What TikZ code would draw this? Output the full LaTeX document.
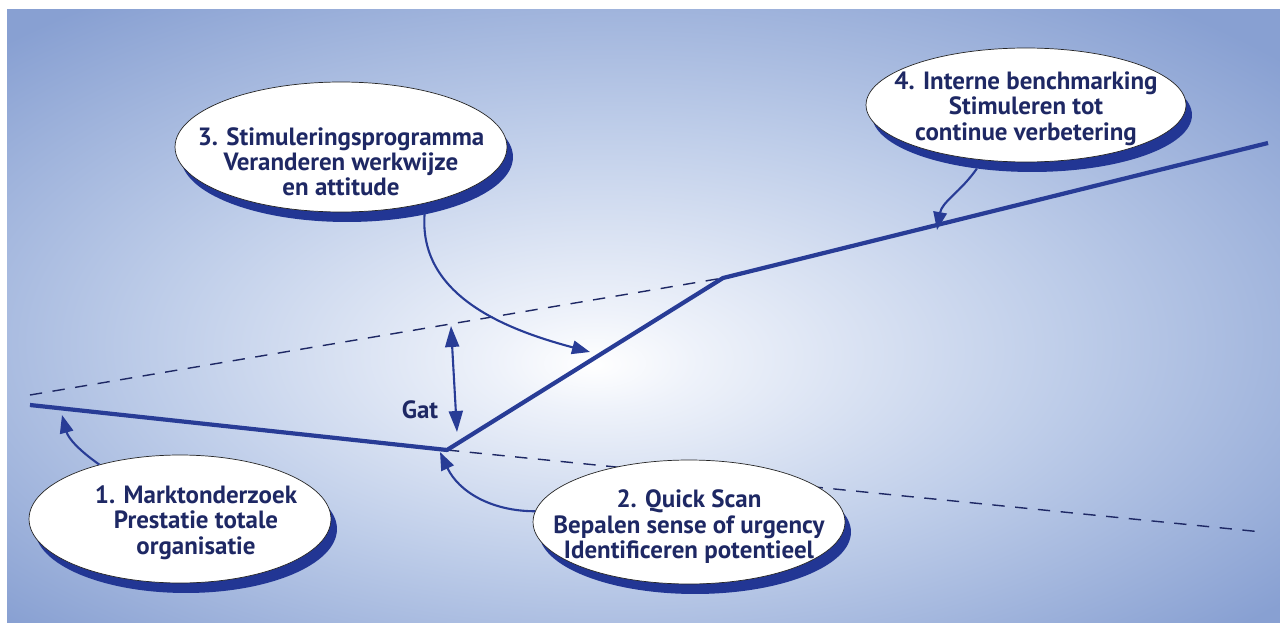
\documentclass[tikz,border=0pt]{standalone}
\usepackage{fontspec}
\setmainfont{PT Sans}
\usetikzlibrary{shapes.geometric,shadows,arrows.meta}
\definecolor{bgblue}{RGB}{136,160,210}
\definecolor{bgmid}{RGB}{190,205,233}
\definecolor{bglight}{RGB}{238,242,250}
\definecolor{lineblue}{RGB}{40,60,150}
\definecolor{shadowblue}{RGB}{34,54,148}
\definecolor{textblue}{RGB}{30,40,100}
\pgfdeclareradialshading{glow}{\pgfpoint{-2bp}{-4bp}}{color(0bp)=(white); color(4bp)=(bglight); color(18bp)=(bgmid); color(34bp)=(bgblue); color(50bp)=(bgblue)}
\newcommand{\indentline}{\hspace*{0.64cm}}

\begin{document}
\begin{tikzpicture}[x=0.02cm,y=-0.02cm]
\tikzstyle{bubble}=[ellipse,draw=black!85,thin,fill=white,align=center,inner xsep=-1.5cm,inner ysep=-0.8cm,font=\bfseries\fontsize{14.2}{14.4}\selectfont,text=textblue,drop shadow={shadow xshift=0.12cm,shadow yshift=-0.2cm,opacity=1,fill=shadowblue}]
\tikzstyle{pointer}=[draw=lineblue,line width=1.2pt,-{Triangle[length=0.36cm,width=0.27cm]}]
\tikzstyle{trend}=[draw=lineblue,line width=2.4pt,line join=round]
\tikzstyle{guide}=[draw=textblue,line width=0.8pt,dash pattern=on 7pt off 6pt]
\useasboundingbox (0,0) rectangle (1280,628);
\fill[white] (0,0) rectangle (1280,628);
\shade[shading=glow] (7,10) rectangle (1280,622);
% points of the curve
\coordinate (start) at (30,405);
\coordinate (dip) at (447,450);
\coordinate (knee) at (723,278);
\coordinate (finish) at (1268,143);
\coordinate (guidestart) at (30,395);
\coordinate (guideend) at (1262,532);
\draw[guide] (guidestart) -- (knee);
\draw[guide] (dip) -- (guideend);
\draw[trend] (start) -- (dip) -- (knee) -- (finish);
% gap
\coordinate (gattop) at (451,326);
\coordinate (gatbot) at (457,432);
\draw[pointer,{Triangle[length=0.42cm,width=0.28cm]}-{Triangle[length=0.42cm,width=0.28cm]}] (gattop) -- (gatbot);
\node[font=\bfseries\fontsize{14.2}{14.4}\selectfont,text=textblue] (gat) at (420,410) {Gat};
% the four steps
\node[bubble,minimum width=6.04cm,minimum height=2.56cm] (e1) at (180,519) {\rule{0pt}{0.5cm}\indentline 1. Marktonderzoek\\\indentline Prestatie totale\\\indentline organisatie};
\node[bubble,minimum width=6.24cm,minimum height=2.48cm] (e2) at (689,522) {\rule{0pt}{0.55cm}2. Quick Scan\\Bepalen sense of urgency\\Identificeren potentieel};
\node[bubble,minimum width=6.64cm,minimum height=2.6cm] (e3) at (341,147) {\rule{0pt}{0.95cm}3. Stimuleringsprogramma\\Veranderen werkwijze\\en attitude};
\node[bubble,minimum width=6.4cm,minimum height=2.28cm] (e4) at (1026,105) {\rule{0pt}{0.5cm}4. Interne benchmarking\\Stimuleren tot\\continue verbetering};
% pointers
\coordinate (tip1) at (62,415);
\coordinate (tip2) at (440,452);
\coordinate (tip3) at (590,352);
\coordinate (tip4) at (937,230);
\draw[pointer] (e1.146) to[out=145,in=-75] (tip1);
\draw[pointer] (e2.176) to[out=180,in=-65] (tip2);
\draw[pointer] ([yshift=-0.18cm]e3.-34) to[out=-95,in=165] (tip3);
\draw[pointer] ([yshift=-0.18cm]e4.-132) to[out=-125,in=80] (tip4);
\end{tikzpicture}
\end{document}
